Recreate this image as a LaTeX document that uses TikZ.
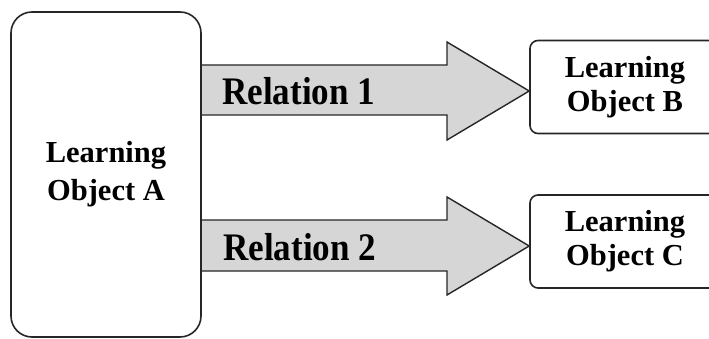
\documentclass[tikz,border=0pt]{standalone}
\usepackage{fontspec}
\setmainfont{Liberation Serif}
\begin{document}
\begin{tikzpicture}[x=1pt,y=-1pt,
  lobox/.style={draw=black!85,line width=1.6pt,fill=white,rounded corners=#1,
    align=center,inner sep=0pt,font=\bfseries\fontsize{30.5}{34}\selectfont},
  relarrow/.style={draw=black!85,line width=1.4pt,fill=black!16,line join=miter},
  rellabel/.style={anchor=base west,inner sep=0pt,font=\bfseries\fontsize{39}{44}\selectfont}]
  \clip (0,0) rectangle (709,339);
  % object boxes
  \node[lobox=8pt,minimum width=190pt,minimum height=93pt] (B) at (625,87)
    {Learning\\Object B};
  \node[lobox=8pt,minimum width=190pt,minimum height=93pt] (C) at (625,241.5)
    {Learning\\Object C};
  % relation arrows from A to B and C
  \filldraw[relarrow] (201,65) -- (447,65) -- (447,42) -- ([yshift=-4pt]B.west)
    -- (447,140) -- (447,115) -- (201,115);
  \filldraw[relarrow] (201,220) -- (447,220) -- (447,197) -- ([yshift=-4.5pt]C.west)
    -- (447,295) -- (447,271) -- (201,271);
  \node[rellabel] (r1) at (222,105) {\scalebox{0.9}[1]{Relation 1}};
  \node[rellabel] (r2) at (223,260) {\scalebox{0.9}[1]{Relation 2}};
  % source object
  \node[lobox=21pt,minimum width=190pt,minimum height=325pt,fill=none] (A) at (106,174.5)
    {Learning\\[4pt]Object A};
\end{tikzpicture}
\end{document}
